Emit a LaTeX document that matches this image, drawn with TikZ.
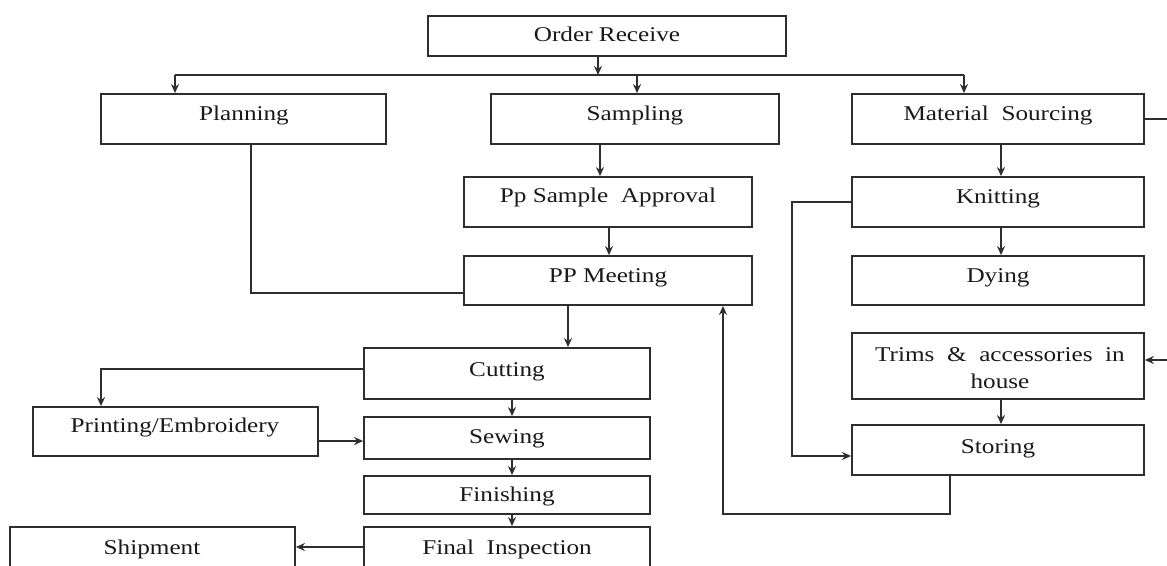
\documentclass[tikz,border=0pt]{standalone}
\usepackage{fontspec}
\setmainfont{Liberation Serif}[FakeStretch=1.2]
\usetikzlibrary{arrows.meta,fit}
\definecolor{linec}{HTML}{2E2E2E}
\tikzset{
  box/.style={draw=linec,line width=0.9pt,inner sep=0pt},
  txt/.style={anchor=base,inner sep=0pt,text=black!90,font=\fontsize{10.5}{13.5}\selectfont},
  ln/.style={draw=linec,line width=0.9pt},
  arr/.style={draw=linec,line width=0.9pt,-{Stealth[length=4.5pt,width=4pt]}}
}
\begin{document}
\begin{tikzpicture}[x=0.5pt,y=-0.5pt]
\useasboundingbox (0,0) rectangle (1167,566);
\fill[white] (0,0) rectangle (1167,566);
\clip (0,0) rectangle (1167,566);
% boxes
\node[box,fit={(428,16) (786,56)}] (order) {};
\node[box,fit={(101,94) (386,144)}] (plan) {};
\node[box,fit={(491,94) (779,144)}] (samp) {};
\node[box,fit={(852,94) (1144,144)}] (mat) {};
\node[box,fit={(464,177) (752,227)}] (ppsa) {};
\node[box,fit={(852,177) (1144,227)}] (knit) {};
\node[box,fit={(464,256) (752,305)}] (ppm) {};
\node[box,fit={(852,256) (1144,305)}] (dye) {};
\node[box,fit={(852,333) (1144,399)}] (trims) {};
\node[box,fit={(852,425) (1144,475)}] (stor) {};
\node[box,fit={(364,348) (650,399)}] (cut) {};
\node[box,fit={(33,407) (318,456)}] (print) {};
\node[box,fit={(364,417) (650,459)}] (sew) {};
\node[box,fit={(364,476) (650,514)}] (fin) {};
\node[box,fit={(364,527) (650,590)}] (finsp) {};
\node[box,fit={(10,527) (295,590)}] (ship) {};
% texts
\node[txt] (orderT) at (607,42) {Order Receive};
\node[txt] (planT) at (244,121) {Planning};
\node[txt] (sampT) at (635,121) {Sampling};
\node[txt] (matT) at (998,121) {Material\ \ Sourcing};
\node[txt] (ppsaT) at (608,203) {Pp Sample\ \ Approval};
\node[txt] (knitT) at (998,204) {Knitting};
\node[txt] (ppmT) at (608,283) {PP Meeting};
\node[txt] (dyeT) at (998,283) {Dying};
\node[txt] (trimsT1) at (1000,362) {Trims\ \ \&\ \ accessories\ \ in};
\node[txt] (trimsT2) at (1000,389) {house};
\node[txt] (storT) at (998,453) {Storing};
\node[txt] (cutT) at (507,377) {Cutting};
\node[txt] (printT) at (175,433) {Printing/Embroidery};
\node[txt] (sewT) at (507,444) {Sewing};
\node[txt] (finT) at (507,502) {Finishing};
\node[txt] (finspT) at (507,554) {Final\ \ Inspection};
\node[txt] (shipT) at (152,554) {Shipment};
% coordinates
\coordinate (busC) at (598,75);
\coordinate (busL) at (175,75);
\coordinate (busS) at (637,75);
\coordinate (busR) at (964,75);
\coordinate (planD) at (251,293);
\coordinate (sampX) at (600,0);
\coordinate (ppsaX) at (609,0);
\coordinate (matX) at (1001,0);
\coordinate (kL) at (792,456);
\coordinate (sB) at (950,514);
\coordinate (sL) at (723,514);
\coordinate (cX) at (568,0);
\coordinate (pc) at (101,369);
\coordinate (psY) at (0,441);
\coordinate (colX) at (512,0);
\coordinate (shY) at (0,547);
\coordinate (eR1) at (1180,119);
\coordinate (eR2) at (1180,360);
% connectors
\draw[arr] (busC |- order.south) -- (busC);
\draw[ln] (busL) -- (busR);
\draw[arr] (busL) -- (busL |- plan.north);
\draw[arr] (busS) -- (busS |- samp.north);
\draw[arr] (busR) -- (busR |- mat.north);
\draw[ln] (planD |- plan.south) -- (planD) -- (planD -| ppm.west);
\draw[arr] (sampX |- samp.south) -- (sampX |- ppsa.north);
\draw[arr] (ppsaX |- ppsa.south) -- (ppsaX |- ppm.north);
\draw[arr] (matX |- mat.south) -- (matX |- knit.north);
\draw[arr] (matX |- knit.south) -- (matX |- dye.north);
\draw[arr] (matX |- trims.south) -- (matX |- stor.north);
\draw[arr] (mat.east) -- (eR1) -- (eR2) -- (eR2 -| trims.east);
\draw[arr] (knit.west) -- (knit.west -| kL) -- (kL) -- (kL -| stor.west);
\draw[arr] (sB |- stor.south) -- (sB) -- (sL) -- (sL |- ppm.south);
\draw[arr] (cX |- ppm.south) -- (cX |- cut.north);
\draw[arr] (pc -| cut.west) -- (pc) -- (pc |- print.north);
\draw[arr] (psY -| print.east) -- (psY -| sew.west);
\draw[arr] (colX |- cut.south) -- (colX |- sew.north);
\draw[arr] (colX |- sew.south) -- (colX |- fin.north);
\draw[arr] (colX |- fin.south) -- (colX |- finsp.north);
\draw[arr] (shY -| finsp.west) -- (shY -| ship.east);
\end{tikzpicture}
\end{document}
